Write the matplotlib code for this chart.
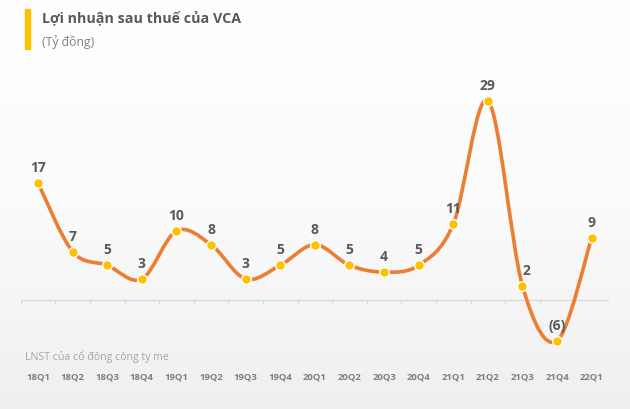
import numpy as np
import matplotlib
matplotlib.use("Agg")
import matplotlib.pyplot as plt
from matplotlib.path import Path
from matplotlib.patches import PathPatch
from matplotlib.transforms import blended_transform_factory

plt.rcParams['font.family'] = ['Open Sans', 'DejaVu Sans']

# data
quarters = ["18Q1", "18Q2", "18Q3", "18Q4", "19Q1", "19Q2", "19Q3", "19Q4",
            "20Q1", "20Q2", "20Q3", "20Q4", "21Q1", "21Q2", "21Q3", "21Q4", "22Q1"]
profit = [17, 7, 5, 3, 10, 8, 3, 5, 8, 5, 4, 5, 11, 29, 2, -6, 9]

title = "Lợi nhuận sau thuế của VCA"
unit = "(Tỷ đồng)"
note = "LNST của cổ đông công ty mẹ"

line_col = "#ED7D31"
dot_col = "#FFC000"

fig = plt.figure(figsize=(6.3, 4.1), dpi=100)

# background gradient
bg = fig.add_axes([0, 0, 1, 1], zorder=0)
grad = np.linspace(0, 1, 256).reshape(-1, 1)
bg.imshow(grad, aspect="auto", cmap=matplotlib.colors.LinearSegmentedColormap.from_list(
    "bg", ["#ffffff", "#fbfbfb", "#efefef"]), extent=[0, 1, 0, 1])
bg.axis("off")

ax = fig.add_axes([20.7 / 630, 0.133, (609 - 20.7) / 630, 0.6695], zorder=1)
ax.patch.set_alpha(0)
x = np.arange(len(profit))
y = np.array(profit, dtype=float)
ax.set_xlim(-0.5, len(profit) - 0.5)
ax.set_ylim(-8, 32)
for s in ax.spines.values():
    s.set_visible(False)
ax.set_xticks([])
ax.set_yticks([])

# zero line with boundary ticks
ax.axhline(0, color="#d9d9d9", lw=0.9, zorder=1)
bounds = np.arange(len(profit) + 1) - 0.5
ax.vlines(bounds, -0.7, 0, color="#d9d9d9", lw=0.9, zorder=1)

# smoothed line (catmull-rom style bezier, like excel)
verts = [(x[0], y[0])]
codes = [Path.MOVETO]
n = len(x)
for i in range(n - 1):
    p0 = np.array([x[max(i - 1, 0)], y[max(i - 1, 0)]])
    p1 = np.array([x[i], y[i]])
    p2 = np.array([x[i + 1], y[i + 1]])
    p3 = np.array([x[min(i + 2, n - 1)], y[min(i + 2, n - 1)]])
    c1 = p1 + (p2 - p0) / 6
    c2 = p2 - (p3 - p1) / 6
    verts += [tuple(c1), tuple(c2), tuple(p2)]
    codes += [Path.CURVE4] * 3
ax.add_patch(PathPatch(Path(verts, codes), fill=False, edgecolor=line_col,
                       lw=2.6, capstyle="round", zorder=2))
ax.plot(x, y, "o", ms=7, mfc=dot_col, mec="white", mew=1.0, zorder=3)

for xi, v in zip(x, profit):
    lab = str(v) if v >= 0 else "(%d)" % abs(v)
    dx = 3 if v == 2 else 0
    ax.annotate(lab, (xi, v), xytext=(dx, 11.5), textcoords="offset points",
                ha="center", va="center", fontsize=10, fontweight="bold",
                color="#595959", zorder=4)

# category labels
tr = blended_transform_factory(ax.transData, fig.transFigure)
for xi, q in zip(x, quarters):
    ax.text(xi, 1 - 377 / 410, q, transform=tr, ha="center", va="center",
            fontsize=6.8, fontweight="bold", color="#7f7f7f")

# title block
fig.patches.append(matplotlib.patches.Rectangle((25 / 630, 1 - 50 / 410), 4.5 / 630, 40 / 410,
                                                transform=fig.transFigure, color="#FFC000",
                                                zorder=2))
fig.text(42 / 630, 1 - 18 / 410, title, ha="left", va="center", fontsize=10.3,
         fontweight="bold", color="#595959", zorder=3)
fig.text(42 / 630, 1 - 42 / 410, unit, ha="left", va="center", fontsize=8.8,
         color="#7f7f7f", zorder=3)
fig.text(25 / 630, 1 - 357 / 410, note, ha="left", va="center", fontsize=7.6,
         color="#a6a6a6", zorder=3)

fig.savefig("out.png", dpi=100)
